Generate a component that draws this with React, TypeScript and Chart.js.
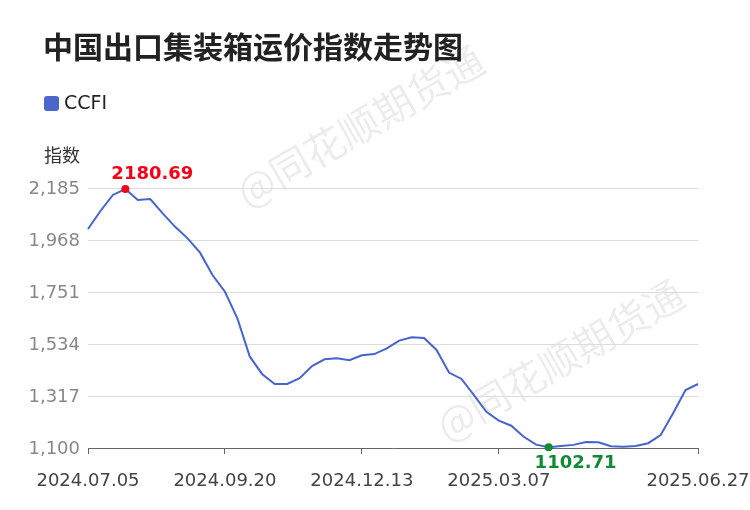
import React, { useEffect, useRef } from "react";
import { Chart, registerables } from "chart.js";

Chart.register(...registerables);

const TITLE = "中国出口集装箱运价指数走势图";
const SERIES_NAME = "CCFI";
const Y_TITLE = "指数";
const WATERMARK = "@同花顺期货通";

const dates: string[] = [
  "2024.07.05", "2024.07.12", "2024.07.19", "2024.07.26", "2024.08.02", "2024.08.09",
  "2024.08.16", "2024.08.23", "2024.08.30", "2024.09.06", "2024.09.13", "2024.09.20",
  "2024.09.27", "2024.10.11", "2024.10.18", "2024.10.25", "2024.11.01", "2024.11.08",
  "2024.11.15", "2024.11.22", "2024.11.29", "2024.12.06", "2024.12.13", "2024.12.20",
  "2024.12.27", "2025.01.03", "2025.01.10", "2025.01.17", "2025.01.24", "2025.02.07",
  "2025.02.14", "2025.02.21", "2025.02.28", "2025.03.07", "2025.03.14", "2025.03.21",
  "2025.03.28", "2025.04.03", "2025.04.11", "2025.04.18", "2025.04.25", "2025.04.30",
  "2025.05.09", "2025.05.16", "2025.05.23", "2025.05.30", "2025.06.06", "2025.06.13",
  "2025.06.20", "2025.06.27",
];

const ccfi: number[] = [
  2014, 2089, 2156, 2180.69, 2135, 2139, 2079, 2023, 1975, 1915,
  1822, 1752, 1641, 1481, 1408, 1367, 1367, 1391, 1442, 1470,
  1474, 1466, 1487, 1492, 1516, 1548, 1562, 1559, 1509, 1415,
  1388, 1321, 1251, 1214, 1193, 1147, 1114, 1102.71, 1108, 1113,
  1125, 1124, 1107, 1105, 1108, 1120, 1154, 1245, 1342, 1367,
];

const shownTickLabels: string[] = ["2024.07.05", "2024.09.20", "2024.12.13", "2025.03.07", "2025.06.27"];

const Y_MIN = 1100;
const Y_MAX = 2185;
const Y_STEP = 217;

const LINE_COLOR = "rgb(70,101,204)";
const MAX_COLOR = "rgb(245,0,22)";
const MIN_COLOR = "rgb(18,138,52)";

export default function App() {
  const ref = useRef<HTMLCanvasElement | null>(null);

  useEffect(() => {
    const canvas = ref.current;
    if (!canvas) return;

    const maxIdx = ccfi.indexOf(Math.max(...ccfi));
    const minIdx = ccfi.indexOf(Math.min(...ccfi));

    const decor = {
      id: "decor",
      beforeDraw(chart: any) {
        const ctx = chart.ctx;
        ctx.save();
        // watermarks
        ctx.fillStyle = "rgba(0,0,0,0.075)";
        ctx.font = '40px "Noto Sans CJK SC", "DejaVu Sans", sans-serif';
        ctx.textAlign = "center";
        ctx.textBaseline = "middle";
        const marks = [
          [360, 126],
          [560, 360],
        ];
        for (const [cx, cy] of marks) {
          ctx.save();
          ctx.translate(cx, cy);
          ctx.rotate((-30 * Math.PI) / 180);
          ctx.fillText(WATERMARK, 0, 0);
          ctx.restore();
        }
        // title
        ctx.textAlign = "left";
        ctx.fillStyle = "#222";
        ctx.font = 'bold 30px "Noto Sans CJK SC", sans-serif';
        ctx.fillText(TITLE, 43, 47);
        // legend
        ctx.fillStyle = "rgb(74,104,204)";
        ctx.beginPath();
        (ctx as any).roundRect(44, 96, 15, 15, 3);
        ctx.fill();
        ctx.fillStyle = "#222";
        ctx.font = '19px "DejaVu Sans", sans-serif';
        ctx.fillText(SERIES_NAME, 64, 104);
        // y title
        ctx.fillStyle = "#333";
        ctx.font = '18px "Noto Sans CJK SC", sans-serif';
        ctx.fillText(Y_TITLE, 44, 155);
        ctx.restore();
      },
      afterDatasetsDraw(chart: any) {
        const ctx = chart.ctx;
        const meta = chart.getDatasetMeta(0);
        ctx.save();
        ctx.font = 'bold 18px "DejaVu Sans", sans-serif';
        ctx.textAlign = "center";
        ctx.textBaseline = "middle";
        const pMax = meta.data[maxIdx];
        ctx.fillStyle = MAX_COLOR;
        ctx.fillText(ccfi[maxIdx].toFixed(2), pMax.x + 27, pMax.y - 15);
        const pMin = meta.data[minIdx];
        ctx.fillStyle = MIN_COLOR;
        ctx.fillText(ccfi[minIdx].toFixed(2), pMin.x + 27, pMin.y + 16);
        ctx.restore();
      },
    };

    const chart = new Chart(canvas, {
      type: "line",
      data: {
        labels: dates,
        datasets: [
          {
            label: SERIES_NAME,
            data: ccfi,
            borderColor: LINE_COLOR,
            backgroundColor: LINE_COLOR,
            borderWidth: 2,
            tension: 0,
            pointRadius: (c: any) => (c.dataIndex === maxIdx || c.dataIndex === minIdx ? 4 : 0),
            pointHoverRadius: 0,
            pointBorderWidth: 0,
            pointBackgroundColor: (c: any) =>
              c.dataIndex === maxIdx ? MAX_COLOR : c.dataIndex === minIdx ? MIN_COLOR : LINE_COLOR,
            clip: false as any,
          },
        ],
      },
      options: {
        animation: false,
        responsive: false,
        events: [],
        layout: { padding: { top: 188, right: 52, left: 0, bottom: 0 } },
        plugins: {
          legend: { display: false },
          title: { display: false },
          tooltip: { enabled: false },
        },
        scales: {
          x: {
            type: "category",
            offset: false,
            afterBuildTicks(scale: any) {
              scale.ticks = scale.ticks.filter((t: any) => shownTickLabels.includes(dates[t.value]));
            },
            afterFit(scale: any) {
              scale.height = 62;
              scale.paddingLeft = 0;
              scale.paddingRight = 0;
            },
            grid: {
              drawOnChartArea: false,
              drawTicks: true,
              tickLength: 6,
              color: "#666",
            },
            border: { display: true, color: "#666", width: 1 },
            ticks: {
              autoSkip: false,
              maxRotation: 0,
              minRotation: 0,
              padding: 17,
              color: "#444",
              font: { family: '"DejaVu Sans", sans-serif', size: 18 },
              callback: (v: any) => dates[v as number],
            },
          },
          y: {
            min: Y_MIN,
            max: Y_MAX,
            afterFit(scale: any) {
              scale.width = 88;
              scale.paddingTop = 0;
              scale.paddingBottom = 0;
            },
            grid: { color: "#dddddd", drawTicks: false, lineWidth: 1 },
            border: { display: false },
            ticks: {
              stepSize: Y_STEP,
              padding: 8,
              labelOffset: 1.5,
              color: "#888",
              font: { family: '"DejaVu Sans", sans-serif', size: 18 },
              callback: (v: any) => Number(v).toLocaleString("en-US"),
            },
          },
        },
      },
      plugins: [decor],
    });

    return () => chart.destroy();
  }, []);

  return (
    <div style={{ position: "fixed", left: 0, top: 0, width: 750, height: 510, background: "#fff" }}>
      <canvas ref={ref} width={750} height={510} style={{ width: 750, height: 510, display: "block" }} />
    </div>
  );
}
